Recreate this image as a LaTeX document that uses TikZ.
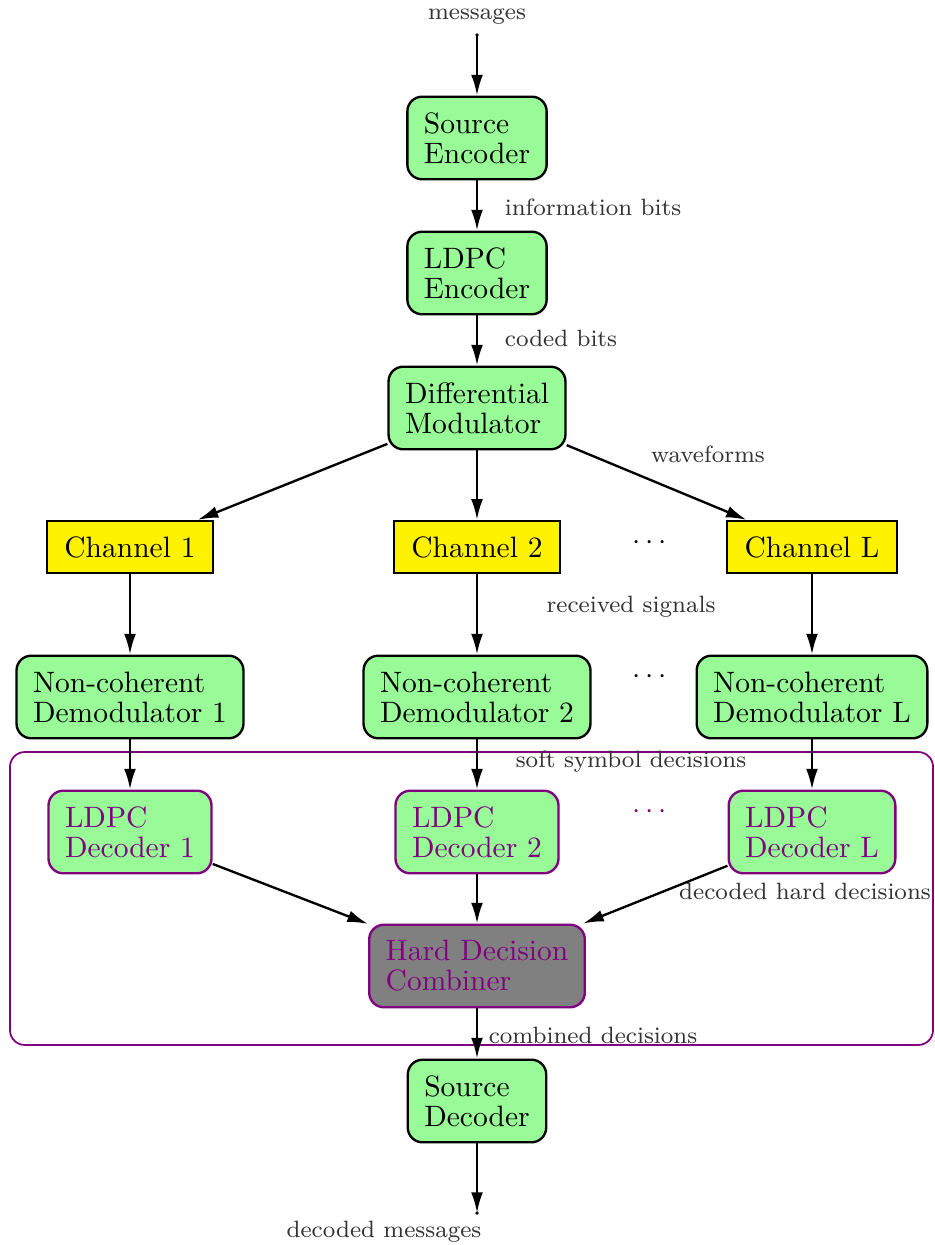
\documentclass[tikz,border=0pt]{standalone}
\usetikzlibrary{arrows.meta}
\definecolor{pgreen}{HTML}{98FB98}
\definecolor{purp}{HTML}{800080}
\begin{document}
\begin{tikzpicture}[x=0.339pt,y=-0.339pt,
  blk/.style={draw=black,thick,fill=pgreen,rounded corners=5pt,align=left,inner xsep=5.6pt,minimum height=28pt,font=\fontsize{10}{10.2}\selectfont},
  dec/.style={blk,draw=purp,text=purp},
  chan/.style={draw=black,thick,fill=yellow,inner xsep=6pt,minimum height=17.6pt},
  lbl/.style={font=\footnotesize,text=black!80},
  arr/.style={thick,-{Latex[length=7pt,width=4pt]}},
  dotsn/.style={font=\normalsize},
]
\useasboundingbox (0,0) rectangle (934,1245);
% group frame
\node (grp) [draw=purp,semithick,rounded corners=5pt,minimum width=312.9pt,minimum height=99.3pt,inner sep=0pt] at (471.5,898.5) {};

\coordinate (in) at (477,35);
\coordinate (out) at (477,1213);
\fill (in) circle (0.6pt);
\fill (out) circle (0.6pt);
\node[lbl] (lin) at (477,17) {messages};
\node[lbl] (lout) at (384,1232) {decoded messages};

\node[blk] (se) at (477,138) {Source\\Encoder};
\node[blk] (le) at (477,273) {LDPC\\Encoder};
\node[blk] (dm) at (477,408) {Differential\\Modulator};

\node[chan] (c1) at (130,547) {Channel 1};
\node[chan] (c2) at (477,547) {Channel 2};
\node[chan] (cl) at (812,547) {Channel L};
\node[dotsn] (d1) at (650,543) {$\cdots$};

\node[blk] (m1) at (130,697) {Non-coherent\\Demodulator 1};
\node[blk] (m2) at (477,697) {Non-coherent\\Demodulator 2};
\node[blk] (ml) at (812,697) {Non-coherent\\Demodulator L};
\node[dotsn] (d2) at (650,677) {$\cdots$};

\node[dec] (l1) at (130,832) {LDPC\\Decoder 1};
\node[dec] (l2) at (477,832) {LDPC\\Decoder 2};
\node[dec] (ll) at (812,832) {LDPC\\Decoder L};
\node[dotsn,text=purp] (d3) at (650,812) {$\cdots$};

\node[dec,fill=gray] (hdc) at (477,966) {Hard Decision\\Combiner};
\node[blk] (sd) at (477,1101) {Source\\Decoder};

% labels
\node[lbl] (t1) at (593,207) {information bits};
\node[lbl] (t2) at (561,338) {coded bits};
\node[lbl] (t3) at (708,454) {waveforms};
\node[lbl] (t4) at (631,607) {received signals};
\node[lbl] (t5) at (631,762) {soft symbol decisions};
\node[lbl] (t6) at (805,891) {decoded hard decisions};
\node[lbl] (t7) at (593,1035) {combined decisions};

% connectors
\draw[arr] (in) -- (se);
\draw[arr] (se) -- (le);
\draw[arr] (le) -- (dm);
\draw[arr] (dm) -- (c1);
\draw[arr] (dm) -- (c2);
\draw[arr] (dm) -- (cl);
\draw[arr] (c1) -- (m1);
\draw[arr] (c2) -- (m2);
\draw[arr] (cl) -- (ml);
\draw[arr] (m1) -- (l1);
\draw[arr] (m2) -- (l2);
\draw[arr] (ml) -- (ll);
\draw[arr] (l1) -- (hdc);
\draw[arr] (l2) -- (hdc);
\draw[arr] (ll) -- (hdc);
\draw[arr] (hdc) -- (sd);
\draw[arr] (sd) -- (out);
\end{tikzpicture}
\end{document}
